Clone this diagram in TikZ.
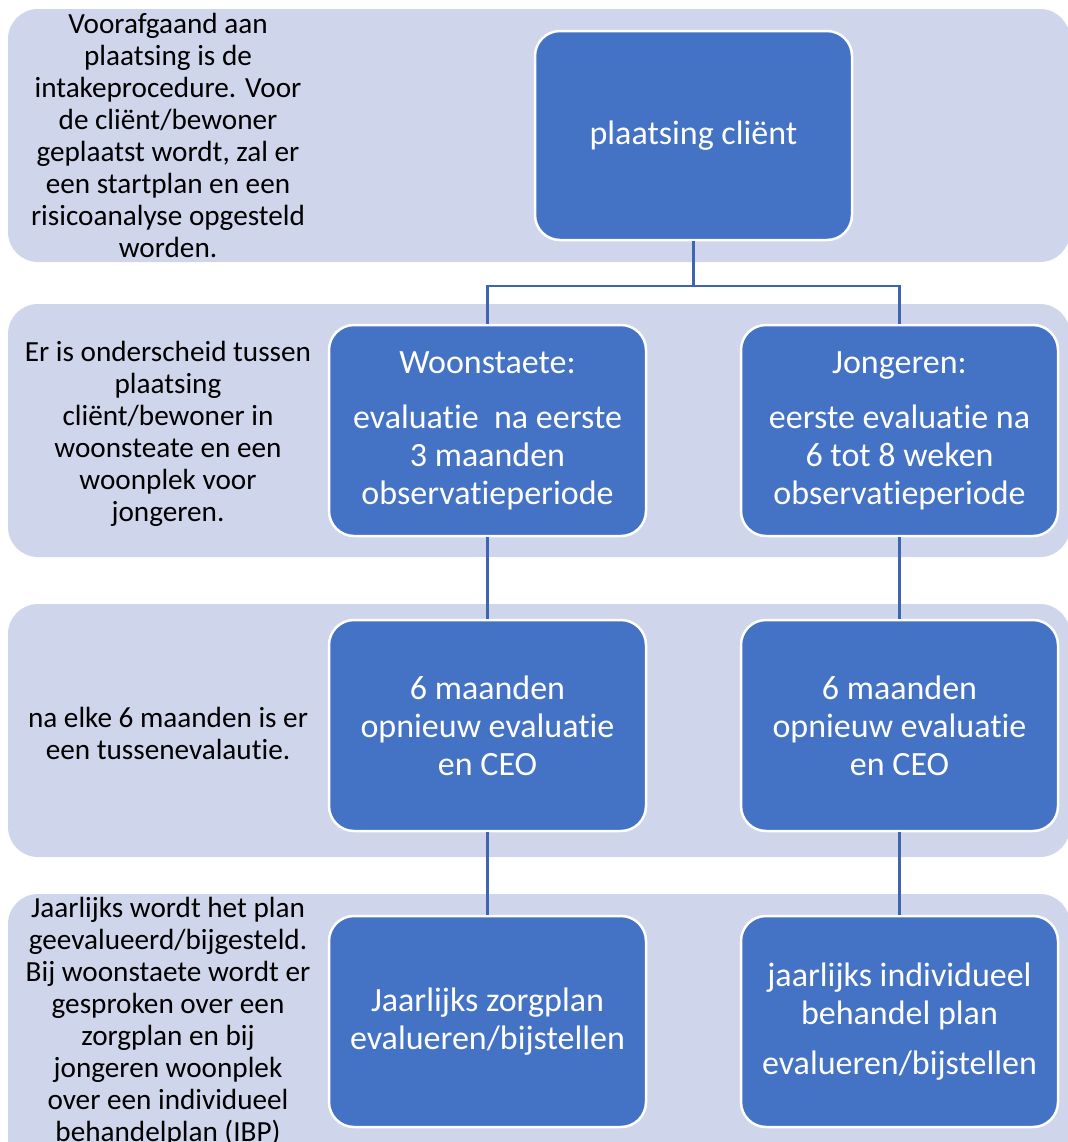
\documentclass[tikz,border=0pt]{standalone}
\usepackage{fontspec}
\setmainfont{Carlito}[Ligatures={NoCommon}]
\usetikzlibrary{positioning}
\definecolor{boxblue}{HTML}{4472C4}
\definecolor{lanefill}{HTML}{CFD5EA}
\definecolor{linkblue}{HTML}{3D65B0}

\begin{document}
\begin{tikzpicture}[
  x=0.5pt, y=-0.5pt,
  stepbox/.style = {
    draw = white,
    line width = 1.25pt,
    fill = boxblue,
    rounded corners = 12.5pt,
    text = white,
    align = center,
    minimum width = 158.5pt,
    minimum height = 105.5pt,
    inner sep = 2pt,
    font = \fontsize{17}{19}\selectfont,
  },
  note/.style = {
    align = center,
    inner sep = 0pt,
    font = \fontsize{14.6}{16}\selectfont,
  },
  link/.style = {draw = linkblue, line width = 1.25pt},
  lane/.style = {fill = lanefill, rounded corners = 15pt},
]
  \useasboundingbox (0,0) rectangle (1068,1142);

  % lanes
  \foreach \ytop/\ybot in {9/262, 304/557, 604/857, 894/1180}
    \fill[lane] (8,\ytop) rectangle (1070,\ybot);

  % notes on the left
  \node[note] (intake) at (168,135) {Voorafgaand aan\\plaatsing is de\\intakeprocedure. Voor\\de cliënt/bewoner\\geplaatst wordt, zal er\\een startplan en een\\risicoanalyse opgesteld\\worden.};
  \node[note] (split note) at (168,434) {Er is onderscheid tussen\\plaatsing\\cliënt/bewoner in\\woonsteate en een\\woonplek voor\\jongeren.};
  \node[note] (half note) at (168,733) {na elke 6 maanden is er\\een tussenevalautie.};
  \node[note] (year note) at (168,1022) {Jaarlijks wordt het plan\\geevalueerd/bijgesteld.\\Bij woonstaete wordt er\\gesproken over een\\zorgplan en bij\\jongeren woonplek\\over een individueel\\behandelplan (IBP)};

  % steps
  \node[stepbox, minimum height = 104.5pt] (plaatsing) at (693.5,135.5) {plaatsing cliënt};
  \node[stepbox] (woon) at (487.5,430.5) {Woonstaete:\\[8.5pt]evaluatie~ na eerste\\3 maanden\\observatieperiode};
  \node[stepbox] (jong) [right=46.25pt of woon] {Jongeren:\\[8.5pt]eerste evaluatie na\\6 tot 8 weken\\observatieperiode};
  \node[stepbox] (woon half) [below=40.75pt of woon] {6 maanden\\opnieuw evaluatie\\en CEO};
  \node[stepbox] (jong half) [below=40.75pt of jong] {6 maanden\\opnieuw evaluatie\\en CEO};
  \node[stepbox] (woon year) [below=41.25pt of woon half] {Jaarlijks zorgplan\\evalueren/bijstellen};
  \node[stepbox] (jong year) [below=41.25pt of jong half] {jaarlijks individueel\\behandel plan\\[6pt]evalueren/bijstellen};

  % connectors
  \coordinate (fork) at (693.5,286);
  \draw[link] (plaatsing.south) -- (fork) -| (woon.north);
  \draw[link] (fork) -| (jong.north);
  \draw[link] (woon.south) -- (woon half.north);
  \draw[link] (jong.south) -- (jong half.north);
  \draw[link] (woon half.south) -- (woon year.north);
  \draw[link] (jong half.south) -- (jong year.north);

\end{tikzpicture}
\end{document}
